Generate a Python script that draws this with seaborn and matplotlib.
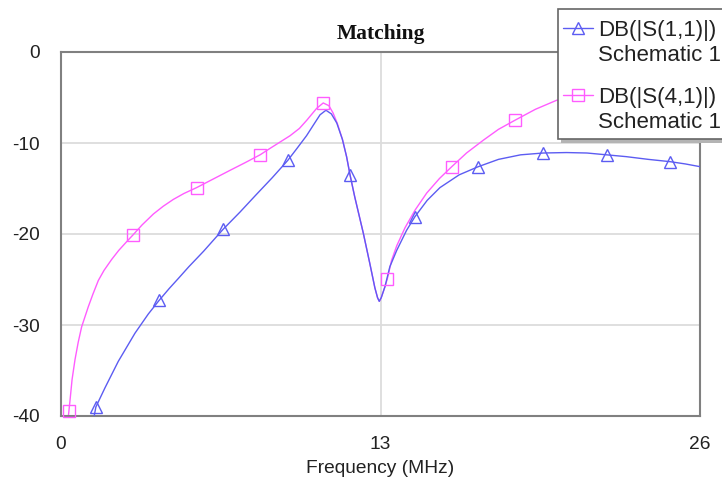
import numpy as np
import pandas as pd
import matplotlib
matplotlib.use("Agg")
import matplotlib.pyplot as plt
from matplotlib.lines import Line2D
from matplotlib.patches import Rectangle
import seaborn as sns

# Swept response, frequency in MHz, magnitude in dB
freq_s11 = [1.35, 1.42, 1.79, 2.33, 3.01, 3.55, 3.99, 4.4, 4.77, 5.2, 5.8, 6.59,
            7.28, 7.9, 8.6, 9.23, 9.6, 9.99, 10.3, 10.54, 10.78, 11.0, 11.22, 11.45,
            11.62, 11.76, 11.95, 12.16, 12.3, 12.57, 12.77, 12.88, 12.95, 13.03,
            13.18, 13.38, 13.66, 14.06, 14.4, 14.9, 15.42, 16.2, 16.98, 17.8, 18.7,
            19.62, 20.57, 21.4, 22.2, 23.0, 23.9, 24.78, 25.4, 26.0]
db_s11 = [-40.0, -39.0, -36.9, -34.0, -30.9, -28.8, -27.3, -26.0, -24.9, -23.6,
          -21.9, -19.5, -17.6, -15.8, -13.8, -11.9, -10.6, -9.2, -7.9, -6.9, -6.4,
          -6.8, -7.8, -9.6, -11.5, -13.5, -15.9, -18.3, -19.9, -23.3, -25.9, -27.0,
          -27.4, -27.0, -25.8, -23.6, -21.8, -19.6, -18.1, -16.3, -14.9, -13.5,
          -12.6, -11.8, -11.3, -11.1, -11.05, -11.1, -11.3, -11.5, -11.8, -12.05,
          -12.3, -12.6]
marks_s11 = [1.42, 3.99, 6.59, 9.23, 11.76, 14.4, 16.98, 19.62, 22.2, 24.78]

freq_s41 = [0.30, 0.32, 0.37, 0.45, 0.57, 0.7, 0.84, 1.11, 1.3, 1.52, 1.75, 2.06,
            2.35, 2.67, 2.93, 3.3, 3.76, 4.16, 4.57, 5.0, 5.52, 6.2, 6.88, 7.5, 8.1,
            8.5, 8.91, 9.32, 9.7, 10.0, 10.4, 10.67, 10.9, 11.07, 11.25, 11.45,
            11.62, 11.76, 11.95, 12.16, 12.3, 12.57, 12.77, 12.88, 12.95, 13.03,
            13.18, 13.28, 13.45, 13.66, 14.0, 14.4, 14.88, 15.4, 15.9, 16.5, 17.18,
            17.8, 18.47, 19.3, 20.17, 21.07, 22.0, 23.0, 23.67, 24.5, 25.3, 26.0]
db_s41 = [-40.0, -39.5, -38.2, -36.0, -33.8, -31.9, -30.2, -28.0, -26.6, -25.1,
          -24.0, -22.8, -21.8, -20.85, -20.1, -19.0, -17.8, -16.95, -16.2, -15.55,
          -14.9, -13.95, -13.0, -12.15, -11.3, -10.6, -9.9, -9.2, -8.4, -7.5, -6.2,
          -5.6, -5.9, -6.7, -7.9, -9.6, -11.5, -13.5, -15.9, -18.3, -19.9, -23.3,
          -25.9, -27.0, -27.4, -27.0, -25.8, -24.9, -22.9, -21.3, -19.3, -17.4,
          -15.5, -13.9, -12.6, -11.1, -9.7, -8.5, -7.5, -6.3, -5.3, -4.6, -4.0,
          -3.6, -3.4, -3.2, -3.1, -3.0]
marks_s41 = [0.32, 2.93, 5.52, 8.1, 10.67, 13.28, 15.9, 18.47, 21.07, 23.67]

x_ticks = [0, 13, 26]
y_ticks = [-40, -30, -20, -10, 0]
legend_rows = [("DB(|S(1,1)|)", "Schematic 1"), ("DB(|S(4,1)|)", "Schematic 1")]

BLUE = "#5c5cf2"
MAGENTA = "#ff5cff"
TEXT = "#222222"
W, H = 722, 480

sns.set_theme(style="white")
plt.rcParams["font.family"] = ["Liberation Sans", "DejaVu Sans"]

fig = plt.figure(figsize=(W / 100, H / 100), dpi=100)
ax = fig.add_axes([61 / W, 1 - 416 / H, 639 / W, 364 / H])

df11 = pd.DataFrame({"f": freq_s11, "db": db_s11})
df41 = pd.DataFrame({"f": freq_s41, "db": db_s41})

sns.lineplot(data=df11, x="f", y="db", ax=ax, color=BLUE, lw=1.0,
             sort=False, estimator=None, zorder=3)
sns.lineplot(data=df41, x="f", y="db", ax=ax, color=MAGENTA, lw=1.0,
             sort=False, estimator=None, zorder=2)

m11 = df11[df11["f"].isin(marks_s11)]
m41 = df41[df41["f"].isin(marks_s41)]
ax.plot(m11["f"], m11["db"], ls="none", marker="^", ms=9, mfc="none",
        mec=BLUE, mew=1.0, zorder=4, clip_on=False)
ax.plot(m41["f"], m41["db"], ls="none", marker="s", ms=8.5, mfc="none",
        mec=MAGENTA, mew=1.0, zorder=4, clip_on=False)

ax.set_xlim(0, 26)
ax.set_ylim(-40, 0)
ax.set_xticks(x_ticks)
ax.set_yticks(y_ticks)
ax.set_xticklabels([str(t) for t in x_ticks], fontsize=13.8)
ax.set_yticklabels([str(t) for t in y_ticks], fontsize=13.8)
ax.tick_params(axis="both", length=0, colors=TEXT)
ax.tick_params(axis="x", pad=14.5)
ax.tick_params(axis="y", pad=15)

# reference grid: inner horizontal levels and the centre frequency
for yv in [-10, -20, -30]:
    ax.axhline(yv, color="#dcdcdc", lw=1.3, zorder=1)
ax.axvline(13, color="#dcdcdc", lw=1.3, zorder=1)

for sp in ax.spines.values():
    sp.set_color("#808080")
    sp.set_linewidth(1.5)

ax.set_xlabel("Frequency (MHz)", fontsize=13.8, color=TEXT, labelpad=5)
ax.set_ylabel("")
ax.set_title("Matching", fontsize=15.5, fontweight="bold",
             family=["Liberation Serif", "DejaVu Serif"], color="#111111", pad=9.5)


# legend box in the top-right corner, laid out in pixel units
def fx(px):
    return px / W


def fy(py):
    return 1 - py / H


box_l, box_t, box_b = 558, 9, 139
fig.add_artist(Rectangle((fx(box_l + 3), fy(box_b + 4)), fx(W + 20 - box_l),
                         (box_b - box_t) / H, transform=fig.transFigure,
                         facecolor="#b4b4b4", edgecolor="none", zorder=9))
fig.add_artist(Rectangle((fx(box_l), fy(box_b)), fx(W + 20 - box_l),
                         (box_b - box_t) / H, transform=fig.transFigure,
                         facecolor="white", edgecolor="#666666", lw=1.2, zorder=10))

styles = [dict(color=BLUE, marker="^", ms=8, mfc="none", mec=BLUE),
          dict(color=MAGENTA, marker="s", ms=8.5, mfc="none", mec=MAGENTA)]
row_y = [28, 95]
for (name, sub), st, yy in zip(legend_rows, styles, row_y):
    fig.add_artist(Line2D([fx(563), fx(593)], [fy(yy), fy(yy)], lw=1.0,
                          transform=fig.transFigure, ls="-", zorder=11,
                          color=st["color"]))
    fig.add_artist(Line2D([fx(578)], [fy(yy)], transform=fig.transFigure,
                          ls="none", marker=st["marker"], ms=st["ms"],
                          mfc="none", mec=st["mec"], mew=1.0, zorder=12))
    fig.text(fx(598), fy(yy), name, fontsize=16, color=TEXT, ha="left",
             va="center_baseline", zorder=12)
    fig.text(fx(598), fy(yy + 25), sub, fontsize=16, color=TEXT, ha="left",
             va="center_baseline", zorder=12)

fig.savefig("out.png", dpi=100)
